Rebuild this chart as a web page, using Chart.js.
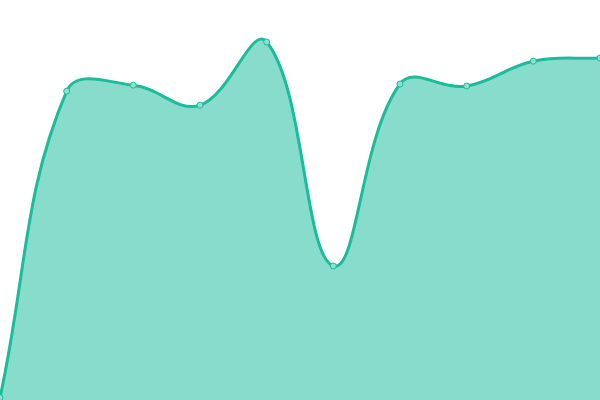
<!DOCTYPE html>
<html>
<head>
<meta charset="utf-8">
<style>
html,body{margin:0;padding:0;background:#fff;overflow:hidden;}
#wrap{width:600px;height:400px;overflow:hidden;position:relative;}
#c{position:absolute;left:-5px;top:-5px;}
</style>
<script src="https://cdn.jsdelivr.net/npm/chart.js@4/dist/chart.umd.min.js"></script>
</head>
<body>
<div id="wrap"><canvas id="c" width="610" height="410"></canvas></div>
<script>
const categories = ["1","2","3","4","5","6","7","8","9","10"];
const seriesValues = [0.6, 77.2, 78.7, 73.7, 89.5, 33.5, 79, 78.5, 84.7, 85.5];

new Chart(document.getElementById('c'), {
  type: 'line',
  data: {
    labels: categories,
    datasets: [{
      data: seriesValues,
      borderColor: '#1abc9c',
      backgroundColor: 'rgba(26,188,156,0.52)',
      borderWidth: 3,
      fill: true,
      tension: 0.4,
      pointRadius: 3,
      pointBorderWidth: 1,
      pointBackgroundColor: 'rgba(140,224,206,1)',
      pointBorderColor: '#1abc9c'
    }]
  },
  options: {
    responsive: false,
    animation: false,
    layout: { padding: 0 },
    plugins: { legend: { display: false }, tooltip: { enabled: false } },
    scales: {
      x: { display: false, offset: false },
      y: { display: false, min: 0, max: 100 }
    }
  }
});
</script>
</body>
</html>
